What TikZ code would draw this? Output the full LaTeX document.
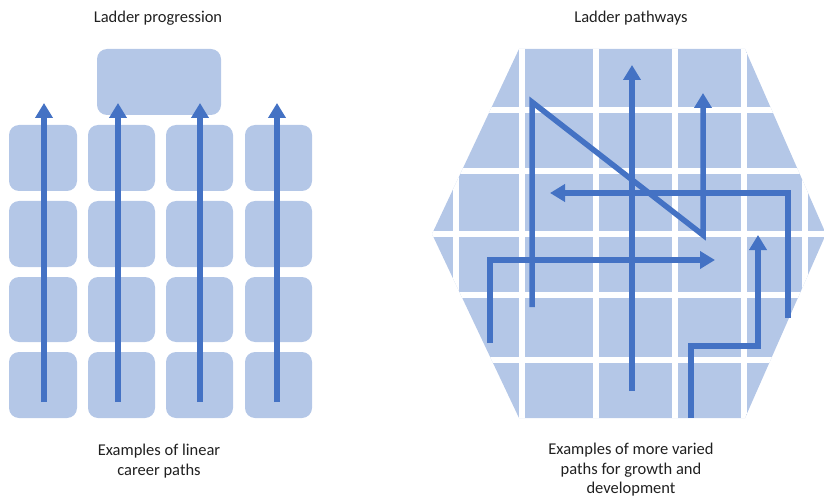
\documentclass[tikz,border=0pt]{standalone}
\usepackage{fontspec}
\setmainfont{Carlito}
\usetikzlibrary{arrows.meta}
\definecolor{cellblue}{HTML}{B4C7E7}
\definecolor{pathblue}{HTML}{4472C4}
\definecolor{captiongray}{HTML}{202020}
\begin{document}
\begin{tikzpicture}[x=1pt,y=-1pt,
    cell/.style={fill=cellblue, rounded corners=10pt},
    pathline/.style={draw=pathblue, line width=5.5pt, -{Triangle[width=17pt,length=15pt]}},
    gridline/.style={draw=white, line width=6pt},
    caption/.style={font=\fontsize{16.5}{19.5}\selectfont, text=captiongray, align=center}]
    \useasboundingbox (0,0) rectangle (824,497);
    % Titles
    \node[caption] (lefttitle) at (158,18) {Ladder progression};
    \node[caption] (righttitle) at (631,18) {Ladder pathways};
    % Left: ladder cells
    \fill[cell] (97,49) rectangle (221,115);
    \foreach \xa/\xb in {9/77, 88/155, 166/233, 245/312}
        \foreach \ya/\yb in {125/191, 201/267, 277/342, 352/418}
            \fill[cell] (\xa,\ya) rectangle (\xb,\yb);
    % Left: straight paths upwards
    \foreach \xp in {44, 118, 200, 277}
        \draw[pathline] (\xp,402) -- (\xp,103);
    % Right: hexagon of cells
    \begin{scope}
        \clip (519,49) -- (745,49) -- (826,234) -- (745,418) -- (519,418) -- (432,234) -- cycle;
        \fill[cellblue] (430,45) rectangle (830,420);
        \foreach \xg in {456, 522, 596, 675, 744, 805}
            \draw[gridline] (\xg,40) -- (\xg,430);
        \foreach \yg in {110, 171, 234, 295, 360}
            \draw[gridline] (420,\yg) -- (830,\yg);
    \end{scope}
    % Right: varied paths
    \draw[pathline] (632,391) -- (632,65);
    \draw[pathline] (532,307) -- (532,102) -- (703,235) -- (703,93);
    \draw[pathline] (788,318) -- (788,193) -- (550,193);
    \draw[pathline] (490,343) -- (490,260) -- (715,260);
    \draw[pathline] (691,418) -- (691,346) -- (758,346) -- (758,235);
    % Captions
    \node[caption] (leftcaption) at (159,461) {Examples of linear\\career paths};
    \node[caption] (rightcaption) at (631,470) {Examples of more varied\\paths for growth and\\development};
\end{tikzpicture}
\end{document}
